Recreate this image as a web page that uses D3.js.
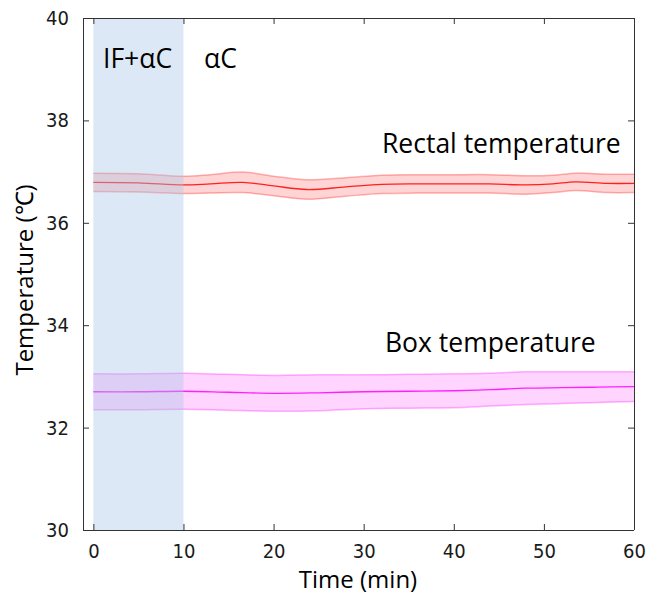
<!DOCTYPE html>
<html>
<head>
<meta charset="utf-8">
<script src="https://cdn.jsdelivr.net/npm/d3@7"></script>
<style>
  body { margin: 0; background: #fff; }
  .axis text { font-family: "DejaVu Sans Condensed", "DejaVu Sans", sans-serif; font-size: 20px; fill: #1a1a1a; }
  .axis path, .axis line { stroke: #333; }
  .lbl { font-family: "Open Sans", sans-serif; fill: #000; }
</style>
</head>
<body>
<svg id="chart"></svg>
<script>
var width = 647;
var height = 598;
var margin = {left: 83, right: 13, top: 18, bottom: 68};

// rectal temperature (mean and half band width)
var rectalTime = [0, 5, 10, 13, 16.6, 20, 23.7, 28, 32, 36, 40, 44, 48, 51, 53.5, 57, 60];
var rectalMean = [36.79, 36.78, 36.74, 36.76, 36.79, 36.72, 36.65, 36.70, 36.75, 36.76, 36.76, 36.76, 36.74, 36.76, 36.80, 36.77, 36.77];
var rectalErr  = [0.18, 0.18, 0.17, 0.18, 0.2, 0.19, 0.19, 0.18, 0.18, 0.18, 0.18, 0.18, 0.18, 0.17, 0.17, 0.18, 0.18];

// box temperature
var boxTime = [0, 5, 10, 15, 20, 25, 30, 35, 40, 44, 48, 52, 56, 60];
var boxMean = [32.70, 32.70, 32.71, 32.69, 32.67, 32.68, 32.70, 32.71, 32.72, 32.74, 32.77, 32.78, 32.79, 32.80];
var boxErr  = [0.35, 0.35, 0.35, 0.35, 0.35, 0.35, 0.33, 0.33, 0.33, 0.32, 0.32, 0.31, 0.3, 0.29];

var xTicks = [0, 10, 20, 30, 40, 50, 60];
var yTicks = [30, 32, 34, 36, 38, 40];
var phase = [0, 10];

var x = d3.scaleLinear().domain([-1.15, 60]).range([margin.left, width - margin.right]);
var y = d3.scaleLinear().domain([30, 40]).range([height - margin.bottom, margin.top]);

var svg = d3.select("#chart").attr("width", width).attr("height", height);

function drawSeries(times, mean, err, color) {
    var pts = times.map(function (t, i) { return {t: t, m: mean[i], e: err[i]}; });
    var curve = d3.curveCatmullRom;
    var area = d3.area().curve(curve)
        .x(function (d) { return x(d.t); })
        .y0(function (d) { return y(d.m - d.e); })
        .y1(function (d) { return y(d.m + d.e); });
    var upper = d3.line().curve(curve).x(function (d) { return x(d.t); }).y(function (d) { return y(d.m + d.e); });
    var lower = d3.line().curve(curve).x(function (d) { return x(d.t); }).y(function (d) { return y(d.m - d.e); });
    var mid = d3.line().curve(curve).x(function (d) { return x(d.t); }).y(function (d) { return y(d.m); });

    svg.append("path").datum(pts).attr("d", area).attr("fill", color).attr("fill-opacity", 0.17);
    svg.append("path").datum(pts).attr("d", upper).attr("fill", "none").attr("stroke", color).attr("stroke-opacity", 0.3).attr("stroke-width", 1.5);
    svg.append("path").datum(pts).attr("d", lower).attr("fill", "none").attr("stroke", color).attr("stroke-opacity", 0.3).attr("stroke-width", 1.5);
    svg.append("path").datum(pts).attr("d", mid).attr("fill", "none").attr("stroke", color).attr("stroke-opacity", 0.85).attr("stroke-width", 1.3);
}

drawSeries(rectalTime, rectalMean, rectalErr, "#ff0000");
drawSeries(boxTime, boxMean, boxErr, "#ff00ff");

// shaded IF phase, drawn on top with transparency
svg.append("rect")
    .attr("x", x(phase[0]))
    .attr("y", y(40))
    .attr("width", x(phase[1]) - x(phase[0]))
    .attr("height", y(30) - y(40))
    .attr("fill", "rgb(167,197,230)")
    .attr("fill-opacity", 0.4);

// axes, ticks pointing inward
var plotBottom = height - margin.bottom;
var plotRight = width - margin.right;

svg.append("g").attr("class", "axis")
    .attr("transform", "translate(0," + plotBottom + ")")
    .call(d3.axisBottom(x).tickValues(xTicks).tickSizeInner(-6).tickSizeOuter(0).tickPadding(14))
    .select(".domain").attr("d", "M" + margin.left + ",0.5H" + plotRight);
svg.append("g").attr("class", "axis")
    .attr("transform", "translate(0," + margin.top + ")")
    .call(d3.axisTop(x).tickValues(xTicks).tickSizeInner(-6).tickSizeOuter(0).tickFormat(""))
    .select(".domain").attr("d", "M" + margin.left + ",0.5H" + plotRight);
svg.append("g").attr("class", "axis")
    .attr("transform", "translate(" + margin.left + ",0)")
    .call(d3.axisLeft(y).tickValues(yTicks).tickSizeInner(-6).tickSizeOuter(0).tickPadding(14))
    .select(".domain").attr("d", "M0.5," + margin.top + "V" + plotBottom);
svg.append("g").attr("class", "axis")
    .attr("transform", "translate(" + plotRight + ",0)")
    .call(d3.axisRight(y).tickValues(yTicks).tickSizeInner(-6).tickSizeOuter(0).tickFormat(""))
    .select(".domain").attr("d", "M0.5," + margin.top + "V" + plotBottom);

// labels
svg.append("text").attr("class", "lbl").attr("x", 358).attr("y", 588)
    .attr("text-anchor", "middle").style("font-size", "24px").text("Time (min)");
svg.append("text").attr("class", "lbl")
    .attr("transform", "translate(33,280) rotate(-90)")
    .attr("text-anchor", "middle").style("font-size", "24px").text("Temperature (℃)");

svg.append("text").attr("class", "lbl").attr("x", 103).attr("y", 68).style("font-size", "26.5px").text("IF+αC");
svg.append("text").attr("class", "lbl").attr("x", 204).attr("y", 68).style("font-size", "26.5px").text("αC");
svg.append("text").attr("class", "lbl").attr("x", 382).attr("y", 153).style("font-size", "26.5px").text("Rectal temperature");
svg.append("text").attr("class", "lbl").attr("x", 385).attr("y", 352).style("font-size", "26.5px").text("Box temperature");
</script>
</body>
</html>
